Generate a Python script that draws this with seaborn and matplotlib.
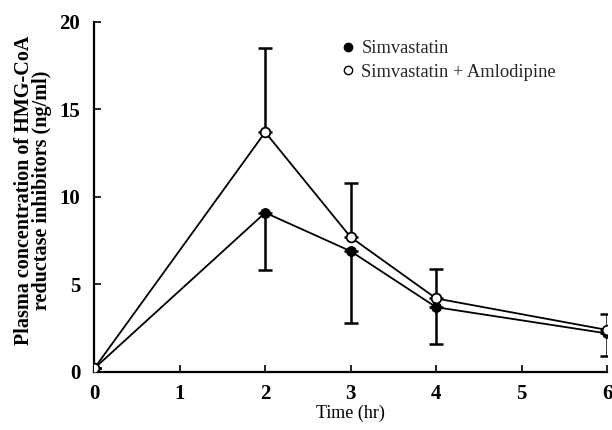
import numpy as np
import pandas as pd
import seaborn as sns
import matplotlib
matplotlib.use("Agg")
import matplotlib.pyplot as plt
from matplotlib.lines import Line2D

# Data
time = [0, 2, 3, 4, 6]
simva_mean = [0.2, 9.1, 6.9, 3.7, 2.2]
simva_sd = [0.0, 3.3, 4.1, 2.1, 1.3]          # drawn downward
combo_mean = [0.2, 13.7, 7.7, 4.2, 2.4]
combo_sd = [0.0, 4.8, 3.1, 1.7, 0.9]          # drawn upward
labels = ["Simvastatin", "Simvastatin + Amlodipine"]
x_ticks = [0, 1, 2, 3, 4, 5, 6]
y_ticks = [0, 5, 10, 15, 20]

sns.set_theme(style="ticks")
plt.rcParams['font.family'] = ['Liberation Serif', 'DejaVu Serif']

df = pd.DataFrame({
    "time": time * 2,
    "conc": simva_mean + combo_mean,
    "group": [labels[0]] * len(time) + [labels[1]] * len(time),
})

fig = plt.figure(figsize=(6.12, 4.30), dpi=100)
ax = fig.add_axes([0.154, 0.135, 0.838, 0.814])

# error bars (one-sided)
ax.errorbar(time, simva_mean, yerr=[simva_sd, [0] * len(time)], fmt="none",
            ecolor="black", elinewidth=1.8, capsize=5, capthick=1.8, zorder=2)
ax.errorbar(time, combo_mean, yerr=[[0] * len(time), combo_sd], fmt="none",
            ecolor="black", elinewidth=1.8, capsize=5, capthick=1.8, zorder=2)

sns.lineplot(data=df, x="time", y="conc", hue="group", style="group",
             palette=["black", "black"], markers=["o", "o"], dashes=False,
             linewidth=1.3, markersize=7, ax=ax, legend=False, zorder=3)
data_lines = [l for l in ax.get_lines() if len(l.get_xdata()) == len(time)]
data_lines[-2].set_markerfacecolor("black")
data_lines[-2].set_markeredgecolor("black")
data_lines[-1].set_markerfacecolor("white")
data_lines[-1].set_markeredgecolor("black")
data_lines[-1].set_markeredgewidth(1.3)

ax.set_xlim(0, 6)
ax.set_ylim(0, 20)
ax.set_xticks(x_ticks)
ax.set_yticks(y_ticks)
ax.tick_params(direction="in", length=5, width=1.2, labelsize=15, colors="black")
ax.tick_params(axis="x", pad=9)
ax.tick_params(axis="y", pad=10)
for t in ax.get_xticklabels() + ax.get_yticklabels():
    t.set_fontweight("bold")
for s in ["top", "right"]:
    ax.spines[s].set_visible(False)
for s in ["left", "bottom"]:
    ax.spines[s].set_linewidth(1.6)
    ax.spines[s].set_color("black")

ax.set_xlabel("Time (hr)", fontsize=13, labelpad=0, color="black")
ax.set_ylabel("Plasma concentration of HMG-CoA\nreductase inhibitors (ng/ml)",
              fontsize=14.5, fontweight="bold", color="black", linespacing=0.85)
ax.yaxis.set_label_coords(-0.082, 0.52)

handles = [
    Line2D([], [], linestyle="none", marker="o", markersize=6, markerfacecolor="black", markeredgecolor="black"),
    Line2D([], [], linestyle="none", marker="o", markersize=6, markerfacecolor="white", markeredgecolor="black"),
]
ax.legend(handles, labels, loc="upper left", bbox_to_anchor=(0.445, 0.995), frameon=False,
          fontsize=13.3, handletextpad=0.2, handlelength=1.0, labelspacing=0.35)

fig.savefig("out.png", dpi=100, facecolor="white")
